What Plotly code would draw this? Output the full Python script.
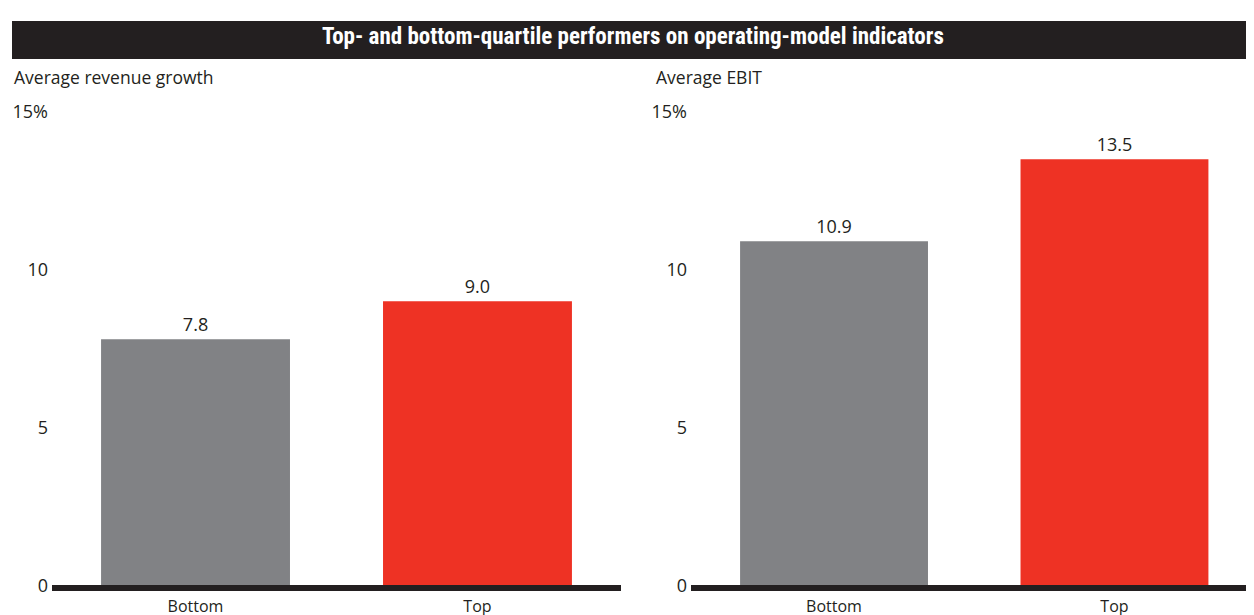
import plotly.graph_objects as go

categories = ["Bottom", "Top"]
revenue_growth = [7.8, 9.0]
ebit = [10.9, 13.5]
bar_colors = ["#818285", "#EE3224"]
tick_vals = [0, 5, 10, 15]
tick_text = ["0", "5", "10", "15%"]
title_text = "Top- and bottom-quartile performers on operating-model indicators"
panel_titles = ["Average revenue growth", "Average EBIT"]

W, H = 1238, 612
INK = "#231F20"
FONT = "Open Sans, Noto Sans, DejaVu Sans, sans-serif"
NARROW = "Liberation Sans Narrow, Roboto Condensed, Arial Narrow, sans-serif"

# mapping from target screen pixels to figure paper fractions (page offset)
X_OFF, Y_OFF, Y_SCALE = 8.0, 18.3, 0.969


def fx(px):
    return (px - X_OFF) / W


def fy(py):
    return (H - (py - Y_OFF) / Y_SCALE) / H


fig = go.Figure()

label_font = dict(size=18, color=INK, family=FONT)
fig.add_trace(go.Bar(x=categories, y=revenue_growth, marker_color=bar_colors,
                     marker_line_width=0, width=0.67,
                     texttemplate="%{y:.1f}", textposition="outside",
                     textfont=label_font, cliponaxis=False,
                     xaxis="x", yaxis="y", showlegend=False, hoverinfo="skip"))
fig.add_trace(go.Bar(x=categories, y=ebit, marker_color=bar_colors,
                     marker_line_width=0, width=0.67,
                     texttemplate="%{y:.1f}", textposition="outside",
                     textfont=label_font, cliponaxis=False,
                     xaxis="x2", yaxis="y2", showlegend=False, hoverinfo="skip"))

ydom = [fy(587.5), fy(110)]


def xaxis(domain, rng, anchor):
    return dict(domain=domain, range=rng, anchor=anchor, showline=True,
                linewidth=6, linecolor=INK, ticks="", showgrid=False,
                zeroline=False, tickfont=dict(size=16, color=INK, family=FONT),
                ticklabelstandoff=1, fixedrange=True)


def yaxis(anchor):
    return dict(domain=ydom, range=[0, 15], anchor=anchor, tickvals=tick_vals,
                ticktext=tick_text, showgrid=False, zeroline=False,
                showline=False, ticks="", ticklabelstandoff=3,
                tickfont=dict(size=18, color=INK, family=FONT), fixedrange=True)


fig.update_layout(
    width=W, height=H,
    margin=dict(l=0, r=0, t=0, b=0),
    paper_bgcolor="white", plot_bgcolor="white",
    xaxis=xaxis([fx(52), fx(621)], [-0.509, 1.509], "y"),
    yaxis=yaxis("x"),
    xaxis2=xaxis([fx(691), 1.0], [-0.51, 1.469], "y2"),
    yaxis2=yaxis("x2"),
    shapes=[dict(type="rect", xref="paper", yref="paper",
                 x0=fx(12), x1=1.0, y0=fy(56.5), y1=1.0,
                 fillcolor=INK, line=dict(width=0), layer="below")],
    annotations=[
        dict(text="<b>" + title_text + "</b>", xref="paper", yref="paper",
             x=fx(633), y=fy(34), xanchor="center", yanchor="middle",
             showarrow=False, font=dict(size=23, color="white", family=NARROW)),
        dict(text=panel_titles[0], xref="paper", yref="paper", x=fx(12),
             y=fy(75), xanchor="left", yanchor="middle", showarrow=False,
             font=dict(size=17.5, color=INK, family=FONT)),
        dict(text=panel_titles[1], xref="paper", yref="paper", x=fx(654),
             y=fy(75), xanchor="left", yanchor="middle", showarrow=False,
             font=dict(size=17.5, color=INK, family=FONT)),
    ],
)

fig.write_html("out.html")
